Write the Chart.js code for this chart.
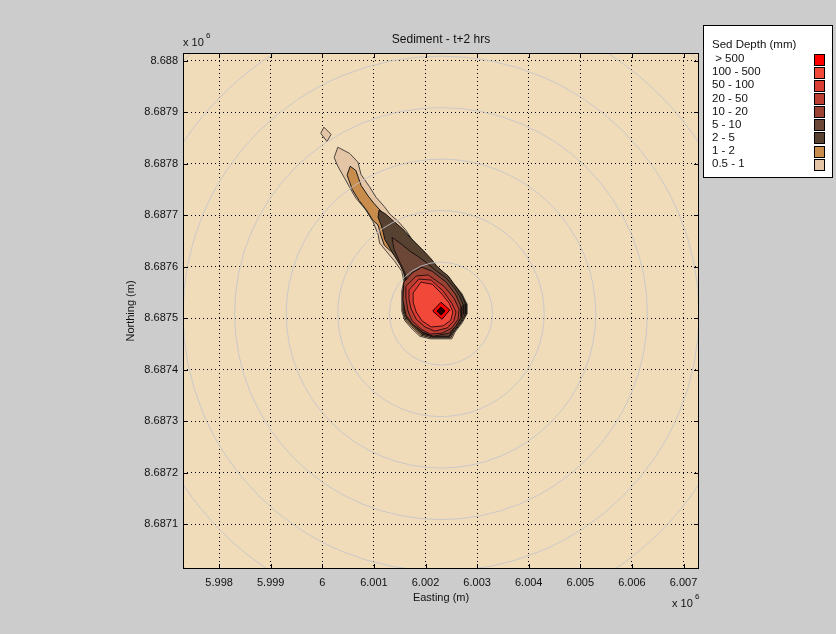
<!DOCTYPE html>
<html>
<head>
<meta charset="utf-8">
<title>Sediment - t+2 hrs</title>
<style>
  html, body { margin: 0; padding: 0; background: #cccccc; }
  #wrap { width: 836px; height: 634px; }
</style>
<script src="https://cdn.jsdelivr.net/npm/chart.js@4/dist/chart.umd.min.js"></script>
</head>
<body>
<div id="wrap"><canvas id="chart" width="836" height="634"></canvas></div>
<script>
// Axis extents (metres) and tick positions
const xRange = [5997300, 6007300];
const yRange = [8687013, 8688015];
const xTicks = [5998000, 5999000, 6000000, 6001000, 6002000, 6003000, 6004000, 6005000, 6006000, 6007000];
const xTickLabels = ['5.998', '5.999', '6', '6.001', '6.002', '6.003', '6.004', '6.005', '6.006', '6.007'];
const yTicks = [8687100, 8687200, 8687300, 8687400, 8687500, 8687600, 8687700, 8687800, 8687900, 8688000];
const yTickLabels = ['8.6871', '8.6872', '8.6873', '8.6874', '8.6875', '8.6876', '8.6877', '8.6878', '8.6879', '8.688'];

// Sediment depth bands (mm), lowest first
const bandLabels = ['0.5 - 1', '1 - 2', '2 - 5', '5 - 10', '10 - 20', '20 - 50', '50 - 100', '100 - 500', ' > 500'];
const bandColors = ['#e4c6a6', '#c88c4c', '#574232', '#6c4636', '#9c4232', '#bc3e32', '#d83c32', '#f2483a', '#ff0000'];

// Contour outlines, one per threshold (easting, northing)
const depth05 = [
  [6000300, 8687832], [6000530, 8687820], [6000690, 8687803], [6000750, 8687779], [6000910, 8687756],
  [6001040, 8687735], [6001200, 8687717], [6001310, 8687702], [6001470, 8687688], [6001620, 8687671],
  [6001760, 8687650], [6001900, 8687634], [6002070, 8687615], [6002190, 8687599], [6002300, 8687586],
  [6002420, 8687578], [6002590, 8687562], [6002710, 8687547], [6002800, 8687528], [6002800, 8687508],
  [6002710, 8687491], [6002570, 8687473], [6002510, 8687460], [6002090, 8687460], [6001890, 8687465],
  [6001740, 8687479], [6001600, 8687495], [6001540, 8687514], [6001540, 8687553], [6001580, 8687572],
  [6001540, 8687591], [6001400, 8687611], [6001240, 8687630], [6001110, 8687646], [6001080, 8687663],
  [6000980, 8687688], [6000830, 8687712], [6000650, 8687733], [6000520, 8687756], [6000420, 8687774],
  [6000300, 8687795], [6000230, 8687812]
];
const depth05Patch = [
  [6000030, 8687871], [6000170, 8687857], [6000090, 8687843], [5999970, 8687859]
];
const depth1 = [
  [6000540, 8687795], [6000650, 8687787], [6000750, 8687758], [6000890, 8687737], [6001000, 8687723],
  [6001100, 8687712], [6001230, 8687698], [6001390, 8687683], [6001640, 8687661], [6001800, 8687644],
  [6001990, 8687624], [6002150, 8687607], [6002280, 8687590], [6002420, 8687580], [6002570, 8687562],
  [6002690, 8687547], [6002790, 8687528], [6002790, 8687508], [6002690, 8687491], [6002550, 8687473],
  [6002490, 8687462], [6002110, 8687462], [6001910, 8687467], [6001760, 8687481], [6001620, 8687496],
  [6001560, 8687514], [6001560, 8687553], [6001600, 8687572], [6001580, 8687591], [6001510, 8687609],
  [6001370, 8687626], [6001200, 8687642], [6001140, 8687659], [6001080, 8687681], [6000980, 8687690],
  [6000870, 8687708], [6000710, 8687729], [6000580, 8687750], [6000480, 8687778]
];
const depth2 = [
  [6001100, 8687710], [6001230, 8687702], [6001410, 8687686], [6001560, 8687673], [6001720, 8687655],
  [6001850, 8687642], [6001990, 8687628], [6002110, 8687615], [6002220, 8687601], [6002340, 8687590],
  [6002440, 8687582], [6002570, 8687564], [6002690, 8687547], [6002770, 8687528], [6002770, 8687508],
  [6002670, 8687491], [6002530, 8687473], [6002470, 8687464], [6002130, 8687464], [6001930, 8687469],
  [6001780, 8687483], [6001640, 8687498], [6001580, 8687514], [6001580, 8687553], [6001620, 8687572],
  [6001580, 8687588], [6001510, 8687603], [6001410, 8687619], [6001310, 8687636], [6001210, 8687653],
  [6001180, 8687667], [6001140, 8687681], [6001080, 8687696]
];
const depth5 = [
  [6001350, 8687657], [6001530, 8687644], [6001700, 8687630], [6001870, 8687619], [6002050, 8687605],
  [6002220, 8687591], [6002400, 8687578], [6002550, 8687560], [6002650, 8687545], [6002730, 8687526],
  [6002730, 8687508], [6002630, 8687491], [6002510, 8687475], [6002460, 8687465], [6002150, 8687465],
  [6001950, 8687471], [6001800, 8687485], [6001660, 8687500], [6001600, 8687516], [6001600, 8687553],
  [6001640, 8687572], [6001600, 8687588], [6001490, 8687611], [6001390, 8687634]
];
const depth10 = [
  [6001580, 8687570], [6001740, 8687588], [6001930, 8687599], [6002130, 8687591], [6002400, 8687570],
  [6002590, 8687545], [6002690, 8687522], [6002690, 8687502], [6002590, 8687485], [6002460, 8687471],
  [6002150, 8687465], [6001950, 8687473], [6001740, 8687489], [6001620, 8687506], [6001560, 8687537]
];
const depth20 = [
  [6001620, 8687562], [6001820, 8687582], [6002050, 8687584], [6002360, 8687562], [6002550, 8687539],
  [6002650, 8687518], [6002630, 8687498], [6002510, 8687481], [6002320, 8687471], [6002090, 8687469],
  [6001910, 8687479], [6001740, 8687495], [6001660, 8687514], [6001620, 8687539]
];
const depth50 = [
  [6001680, 8687555], [6001870, 8687576], [6002110, 8687574], [6002340, 8687553], [6002510, 8687529],
  [6002590, 8687512], [6002550, 8687495], [6002420, 8687481], [6002180, 8687475], [6001990, 8687483],
  [6001820, 8687498], [6001720, 8687518], [6001680, 8687537]
];
const depth100 = [
  [6001760, 8687549], [6001910, 8687570], [6002130, 8687566], [6002300, 8687549], [6002460, 8687529],
  [6002530, 8687512], [6002490, 8687496], [6002340, 8687485], [6002110, 8687483], [6001930, 8687495],
  [6001820, 8687512], [6001760, 8687531]
];
const depth500 = [
  [6002300, 8687531], [6002470, 8687516], [6002320, 8687498], [6002140, 8687514]
];
const depthPeak = [
  [6002300, 8687522], [6002380, 8687514], [6002300, 8687506], [6002220, 8687514]
];

// Range rings around the release point
const ringCentre = [6002300, 8687509];
const ringSteps = [1, 2, 3, 4, 5, 6, 7];
const ringSpacing = [1000, 100];

const plotBg = '#f0dcb8';
const FONT = '"Liberation Sans", Arial, Helvetica, sans-serif';

const outlines = [
  { pts: depth05,      band: 0, line: '#4a4440' },
  { pts: depth05Patch, band: 0, line: '#4a4440' },
  { pts: depth1,       band: 1, line: '#1c1a18' },
  { pts: depth2,       band: 2, line: '#141210' },
  { pts: depth5,       band: 3, line: '#1a1210' },
  { pts: depth10,      band: 4, line: '#1a1010' },
  { pts: depth20,      band: 5, line: '#2a1010' },
  { pts: depth50,      band: 6, line: '#301010' },
  { pts: depth100,     band: 7, line: '#3a1010' },
  { pts: depth500,     band: 8, line: '#1a0000' },
  { pts: depthPeak,    band: 8, line: '#000000', fill: '#2a0000' }
];

const datasets = outlines.map((o, i) => ({
  label: bandLabels[o.band],
  data: o.pts.concat([o.pts[0]]),
  showLine: true,
  fill: 'shape',
  backgroundColor: o.fill || bandColors[o.band],
  borderColor: o.line,
  borderWidth: 1,
  pointRadius: 0,
  pointHoverRadius: 0,
  tension: 0,
  order: 100 - i
}));

const decorations = {
  id: 'decorations',
  beforeDraw(chart) {
    const { ctx, chartArea: a } = chart;
    ctx.save();
    ctx.fillStyle = '#cccccc';
    ctx.fillRect(0, 0, chart.width, chart.height);
    ctx.fillStyle = plotBg;
    ctx.fillRect(a.left, a.top, a.right - a.left, a.bottom - a.top);
    ctx.restore();
  },
  afterDatasetsDraw(chart) {
    const { ctx, chartArea: a } = chart;
    const xs = chart.scales.x, ys = chart.scales.y;
    const cx = xs.getPixelForValue(ringCentre[0]);
    const cy = ys.getPixelForValue(ringCentre[1]);
    ctx.save();
    ctx.beginPath();
    ctx.rect(a.left, a.top, a.right - a.left, a.bottom - a.top);
    ctx.clip();
    ctx.strokeStyle = 'rgba(196,196,204,0.85)';
    ctx.lineWidth = 1;
    ringSteps.forEach(k => {
      const rx = Math.abs(xs.getPixelForValue(ringCentre[0] + k * ringSpacing[0]) - cx);
      const ry = Math.abs(ys.getPixelForValue(ringCentre[1] + k * ringSpacing[1]) - cy);
      ctx.beginPath();
      ctx.ellipse(cx, cy, rx, ry, 0, 0, Math.PI * 2);
      ctx.stroke();
    });
    ctx.restore();
  },
  afterDraw(chart) {
    const { ctx, chartArea: a } = chart;
    const xs = chart.scales.x, ys = chart.scales.y;
    ctx.save();
    // axes box
    ctx.strokeStyle = '#000';
    ctx.lineWidth = 1;
    ctx.strokeRect(a.left + 0.5, a.top + 0.5, a.right - a.left - 1, a.bottom - a.top - 1);
    // inward tick marks on all four sides
    ctx.beginPath();
    xTicks.forEach(v => {
      const px = Math.round(xs.getPixelForValue(v)) + 0.5;
      ctx.moveTo(px, a.bottom); ctx.lineTo(px, a.bottom - 5);
      ctx.moveTo(px, a.top); ctx.lineTo(px, a.top + 5);
    });
    yTicks.forEach(v => {
      const py = Math.round(ys.getPixelForValue(v)) + 0.5;
      ctx.moveTo(a.left, py); ctx.lineTo(a.left + 5, py);
      ctx.moveTo(a.right, py); ctx.lineTo(a.right - 5, py);
    });
    ctx.stroke();

    // title and axis labels
    ctx.fillStyle = '#111';
    ctx.textAlign = 'center';
    ctx.textBaseline = 'alphabetic';
    ctx.font = '12px ' + FONT;
    const midX = (a.left + a.right) / 2;
    ctx.fillText('Sediment - t+2 hrs', midX, 43);
    ctx.font = '11px ' + FONT;
    ctx.fillText('Easting (m)', midX, 601);
    ctx.save();
    ctx.translate(134, (a.top + a.bottom) / 2);
    ctx.rotate(-Math.PI / 2);
    ctx.fillText('Northing (m)', 0, 0);
    ctx.restore();

    // exponent markers
    ctx.textAlign = 'left';
    ctx.font = '11px ' + FONT;
    ctx.fillText('x 10', a.left, 46);
    ctx.fillText('x 10', 672, 607);
    ctx.font = '8px ' + FONT;
    ctx.fillText('6', a.left + 23, 38);
    ctx.fillText('6', 695, 599);

    // depth legend
    const lx = 703, ly = 25, lw = 130, lh = 153;
    ctx.fillStyle = '#ffffff';
    ctx.fillRect(lx, ly, lw, lh);
    ctx.strokeStyle = '#000';
    ctx.strokeRect(lx + 0.5, ly + 0.5, lw - 1, lh - 1);
    ctx.fillStyle = '#111';
    ctx.font = '11.5px ' + FONT;
    ctx.textBaseline = 'middle';
    ctx.fillText('Sed Depth (mm)', 712, 45);
    const n = bandLabels.length;
    for (let i = 0; i < n; i++) {
      const b = n - 1 - i;
      const yy = 59 + i * 13.15;
      ctx.fillStyle = '#111';
      ctx.fillText(bandLabels[b], 712, yy);
      ctx.fillStyle = bandColors[b];
      ctx.fillRect(814, Math.round(yy - 5.5), 10, 11);
      ctx.strokeStyle = '#000';
      ctx.strokeRect(814.5, Math.round(yy - 5.5) + 0.5, 10, 11);
    }
    ctx.restore();
  }
};

Chart.defaults.font.family = FONT;

new Chart(document.getElementById('chart'), {
  type: 'scatter',
  data: { datasets },
  options: {
    responsive: false,
    animation: false,
    devicePixelRatio: 1,
    layout: { padding: { left: 0, top: 53, right: 137, bottom: 0 } },
    plugins: {
      legend: { display: false },
      title: { display: false },
      tooltip: { enabled: false }
    },
    scales: {
      x: {
        type: 'linear',
        position: 'bottom',
        min: xRange[0],
        max: xRange[1],
        afterBuildTicks: s => { s.ticks = xTicks.map(v => ({ value: v })); },
        afterFit: s => { s.height = 65; },
        ticks: {
          autoSkip: false,
          maxRotation: 0,
          padding: 7,
          color: '#111',
          font: { size: 11 },
          callback: v => xTickLabels[xTicks.indexOf(v)]
        },
        grid: { color: '#000', lineWidth: 1, drawTicks: false },
        border: { display: false, dash: [1, 3] }
      },
      y: {
        type: 'linear',
        position: 'left',
        min: yRange[0],
        max: yRange[1],
        afterBuildTicks: s => { s.ticks = yTicks.map(v => ({ value: v })); },
        afterFit: s => { s.width = 183; },
        ticks: {
          autoSkip: false,
          padding: 5,
          color: '#111',
          font: { size: 11 },
          callback: v => yTickLabels[yTicks.indexOf(v)]
        },
        grid: { color: '#000', lineWidth: 1, drawTicks: false },
        border: { display: false, dash: [1, 3] }
      }
    }
  },
  plugins: [decorations]
});
</script>
</body>
</html>
